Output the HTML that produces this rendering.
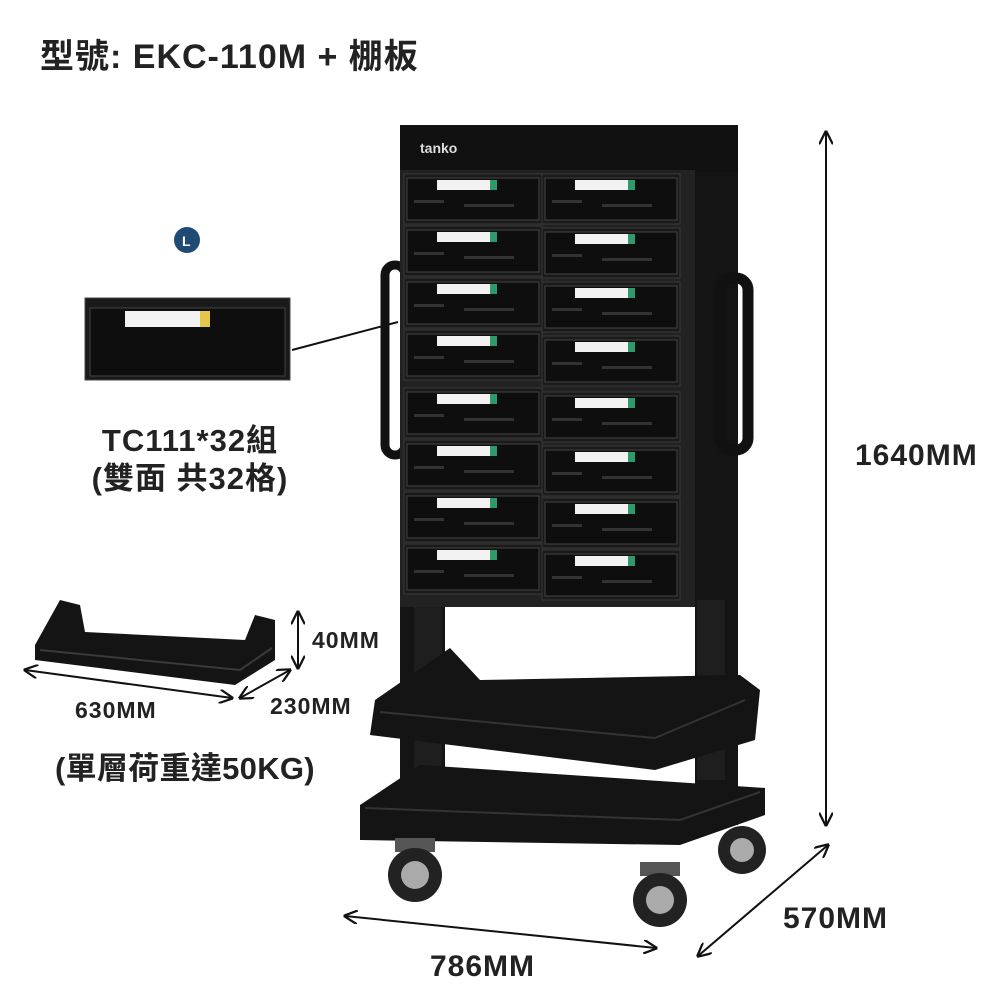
<!DOCTYPE html>
<html><head><meta charset="utf-8">
<style>
html,body{margin:0;padding:0;background:#fff;}
svg{display:block;}
text{font-family:"Liberation Sans","Noto Sans CJK TC",sans-serif;font-weight:bold;fill:#222;}
</style></head>
<body>
<svg width="1000" height="1000" viewBox="0 0 1000 1000" xmlns="http://www.w3.org/2000/svg">
<defs>
<marker id="ar" viewBox="0 0 10 10" refX="9" refY="5" markerWidth="7" markerHeight="7" orient="auto-start-reverse"><path d="M0,0 L10,5 L0,10" fill="none" stroke="#111" stroke-width="1.6"/></marker>
<g id="drw">
<rect x="0" y="0" width="138" height="50" fill="#1a1a1a" stroke="#3a3a3a"/>
<rect x="3" y="4" width="132" height="42" fill="#0e0e0e" stroke="#444" stroke-width="1"/>
<rect x="33" y="6" width="60" height="10" fill="#f2f2f2"/>
<rect x="86" y="6" width="7" height="10" fill="#2e9a6a"/>
<rect x="10" y="26" width="30" height="3" fill="#333"/>
<rect x="60" y="30" width="50" height="3" fill="#333"/>
</g>
</defs>

<text x="40" y="68" font-size="34" letter-spacing="1">型號: EKC-110M + 棚板</text>

<!-- rack frame -->
<rect x="400" y="125" width="45" height="700" fill="#141414"/>
<rect x="695" y="125" width="43" height="700" fill="#141414"/>
<rect x="400" y="125" width="338" height="47" fill="#111"/>
<text x="420" y="153" font-size="14" style="fill:#ddd">tanko</text>
<rect x="414" y="600" width="28" height="180" fill="#1e1e1e"/>
<rect x="697" y="600" width="28" height="180" fill="#1e1e1e"/>
<!-- handles -->
<rect x="385" y="265" width="20" height="190" rx="10" fill="none" stroke="#111" stroke-width="9"/>
<rect x="720" y="278" width="28" height="172" rx="12" fill="none" stroke="#111" stroke-width="11"/>
<!-- drawers -->
<rect x="400" y="170" width="295" height="437" fill="#222"/>
<g>
<use href="#drw" x="404" y="174"/><use href="#drw" x="542" y="174"/>
<use href="#drw" x="404" y="226"/><use href="#drw" x="542" y="228"/>
<use href="#drw" x="404" y="278"/><use href="#drw" x="542" y="282"/>
<use href="#drw" x="404" y="330"/><use href="#drw" x="542" y="336"/>
<use href="#drw" x="404" y="388"/><use href="#drw" x="542" y="392"/>
<use href="#drw" x="404" y="440"/><use href="#drw" x="542" y="446"/>
<use href="#drw" x="404" y="492"/><use href="#drw" x="542" y="498"/>
<use href="#drw" x="404" y="544"/><use href="#drw" x="542" y="550"/>
</g>
<!-- middle shelf -->
<path d="M375,700 L450,648 L480,680 L740,675 L760,690 L755,740 L655,770 L370,735 Z" fill="#141414"/>
<path d="M380,712 L655,738 L745,700" fill="none" stroke="#333" stroke-width="2"/>
<!-- base tray -->
<path d="M360,805 L420,765 L765,788 L765,815 L680,845 L360,840 Z" fill="#141414"/>
<path d="M365,808 L680,820 L760,792" fill="none" stroke="#333" stroke-width="2"/>
<!-- wheels -->
<rect x="395" y="838" width="40" height="14" fill="#555"/>
<circle cx="415" cy="875" r="27" fill="#222"/><circle cx="415" cy="875" r="14" fill="#aaa"/>
<rect x="640" y="862" width="40" height="14" fill="#555"/>
<circle cx="660" cy="900" r="27" fill="#222"/><circle cx="660" cy="900" r="14" fill="#aaa"/>
<circle cx="742" cy="850" r="24" fill="#222"/><circle cx="742" cy="850" r="12" fill="#aaa"/>

<!-- dimension lines -->
<line x1="826" y1="132" x2="826" y2="825" stroke="#111" stroke-width="2" marker-start="url(#ar)" marker-end="url(#ar)"/>
<text x="855" y="465" font-size="30" letter-spacing="1">1640MM</text>
<line x1="345" y1="916" x2="656" y2="948" stroke="#111" stroke-width="2" marker-start="url(#ar)" marker-end="url(#ar)"/>
<text x="430" y="976" font-size="30" letter-spacing="1">786MM</text>
<line x1="698" y1="956" x2="828" y2="845" stroke="#111" stroke-width="2" marker-start="url(#ar)" marker-end="url(#ar)"/>
<text x="783" y="928" font-size="30" letter-spacing="1">570MM</text>

<!-- small drawer -->
<circle cx="187" cy="240" r="13" fill="#1f4a73"/>
<text x="182" y="246" font-size="14" style="fill:#fff">L</text>
<rect x="85" y="298" width="205" height="82" fill="#1a1a1a" stroke="#444"/>
<rect x="90" y="308" width="195" height="68" fill="#0e0e0e" stroke="#444"/>
<rect x="125" y="311" width="85" height="16" fill="#f2f2f2"/>
<rect x="200" y="311" width="10" height="16" fill="#e3c74a"/>
<line x1="292" y1="350" x2="398" y2="322" stroke="#111" stroke-width="2"/>
<text x="190" y="451" font-size="31" text-anchor="middle" letter-spacing="1">TC111*32組</text>
<text x="190" y="489" font-size="31" text-anchor="middle" letter-spacing="1">(雙面 共32格)</text>

<!-- shelf image -->
<path d="M35,645 L60,600 L80,605 L85,632 L245,640 L255,615 L275,620 L275,660 L235,685 L35,660 Z" fill="#141414"/>
<path d="M40,650 L240,670 L272,648" fill="none" stroke="#3a3a3a" stroke-width="2"/>
<line x1="298" y1="612" x2="298" y2="668" stroke="#111" stroke-width="2" marker-start="url(#ar)" marker-end="url(#ar)"/>
<text x="312" y="648" font-size="23" letter-spacing="1">40MM</text>
<line x1="25" y1="670" x2="232" y2="698" stroke="#111" stroke-width="2" marker-start="url(#ar)" marker-end="url(#ar)"/>
<text x="75" y="718" font-size="23" letter-spacing="1">630MM</text>
<line x1="240" y1="698" x2="290" y2="670" stroke="#111" stroke-width="2" marker-start="url(#ar)" marker-end="url(#ar)"/>
<text x="270" y="714" font-size="23" letter-spacing="1">230MM</text>
<text x="55" y="779" font-size="31" letter-spacing="0.3">(單層荷重達50KG)</text>
</svg>
</body></html>
